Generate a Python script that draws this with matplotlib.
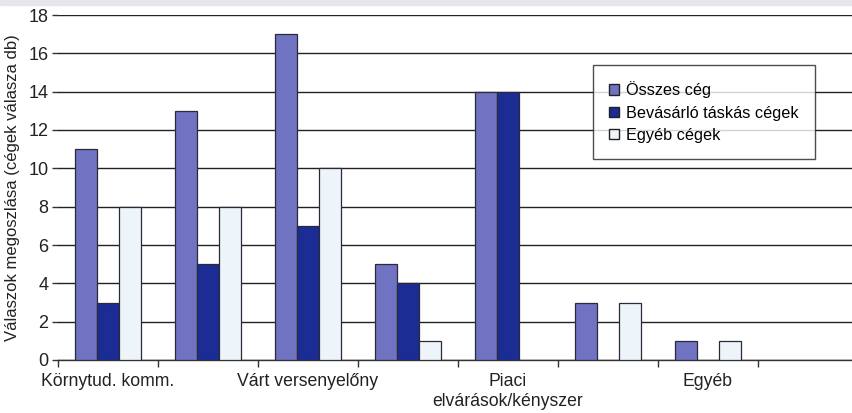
import numpy as np
import matplotlib
matplotlib.use("Agg")
from matplotlib import pyplot as plt
from matplotlib.patches import Rectangle

plt.rcParams['font.family'] = ['Liberation Sans', 'DejaVu Sans']

categories = ["Környtud. komm.", "", "Várt versenyelőny", "",
              "Piaci\nelvárások/kényszer", "", "Egyéb", ""]
series_names = ["Összes cég", "Bevásárló táskás cégek", "Egyéb cégek"]
osszes = [11, 13, 17, 5, 14, 3, 1, 0]
bevasarlo = [3, 5, 7, 4, 14, 0, 0, 0]
egyeb = [8, 8, 10, 1, 0, 3, 1, 0]
yticks = [0, 2, 4, 6, 8, 10, 12, 14, 16, 18]

colors = ["#6F73C2", "#1B2D95", "#EEF5FA"]

fig = plt.figure(figsize=(8.53, 4.13), dpi=100)
ax = fig.add_axes([58 / 853, 1 - 360 / 413, 1 - 58 / 853, (360 - 15) / 413])

x = np.arange(len(categories))
w = 0.22
for k, (vals, name) in enumerate(zip([osszes, bevasarlo, egyeb], series_names)):
    # zero answers are not drawn at all in the original
    h = np.array(vals, dtype=float)
    h[h == 0] = np.nan
    ax.bar(x + (k - 1) * w, h, w, color=colors[k], edgecolor="#2a2a3a",
           linewidth=0.9, label=name, zorder=3)

ax.set_ylim(0, 18)
ax.set_xlim(-0.5, 7.45)
ax.set_yticks(yticks)
ax.yaxis.grid(True, color="#222222", linewidth=1.0, zorder=0)
ax.set_axisbelow(True)

for s in ["top", "right", "left"]:
    ax.spines[s].set_visible(False)
ax.spines["bottom"].set_color("#333333")
ax.spines["bottom"].set_linewidth(1.0)

ax.set_xticks(np.arange(len(categories)) - 0.5)
ax.set_xticklabels([])
ax.tick_params(axis="x", which="major", length=5, width=1, color="#333333")
ax.set_xticks(x, minor=True)
ax.set_xticklabels(categories, minor=True, fontsize=12.7, color="#222222",
                   linespacing=1.25)
ax.tick_params(axis="x", which="minor", length=0, pad=9)
ax.tick_params(axis="y", length=4, width=1, color="#333333", labelsize=13,
               labelcolor="#222222", pad=3)

ax.set_ylabel("Válaszok megoszlása (cégek válasza db)", fontsize=12,
              color="#222222", labelpad=6)

leg = fig.legend(loc="upper left", bbox_to_anchor=(593 / 853, 1 - 65 / 413),
                 fontsize=11.7, frameon=True, fancybox=False, edgecolor="#222222",
                 handlelength=0.6, handleheight=0.6, handletextpad=0.45,
                 borderpad=1.0, labelspacing=0.45, borderaxespad=0)
leg.get_frame().set_linewidth(1.0)
for h in leg.legend_handles:
    h.set_linewidth(1.0)
    h.set_edgecolor("#222222")

fig.patches.append(Rectangle((0, 1 - 5 / 413), 1, 5 / 413, transform=fig.transFigure,
                             color="#E6E6EE", zorder=0))

fig.savefig("out.png", dpi=100)
